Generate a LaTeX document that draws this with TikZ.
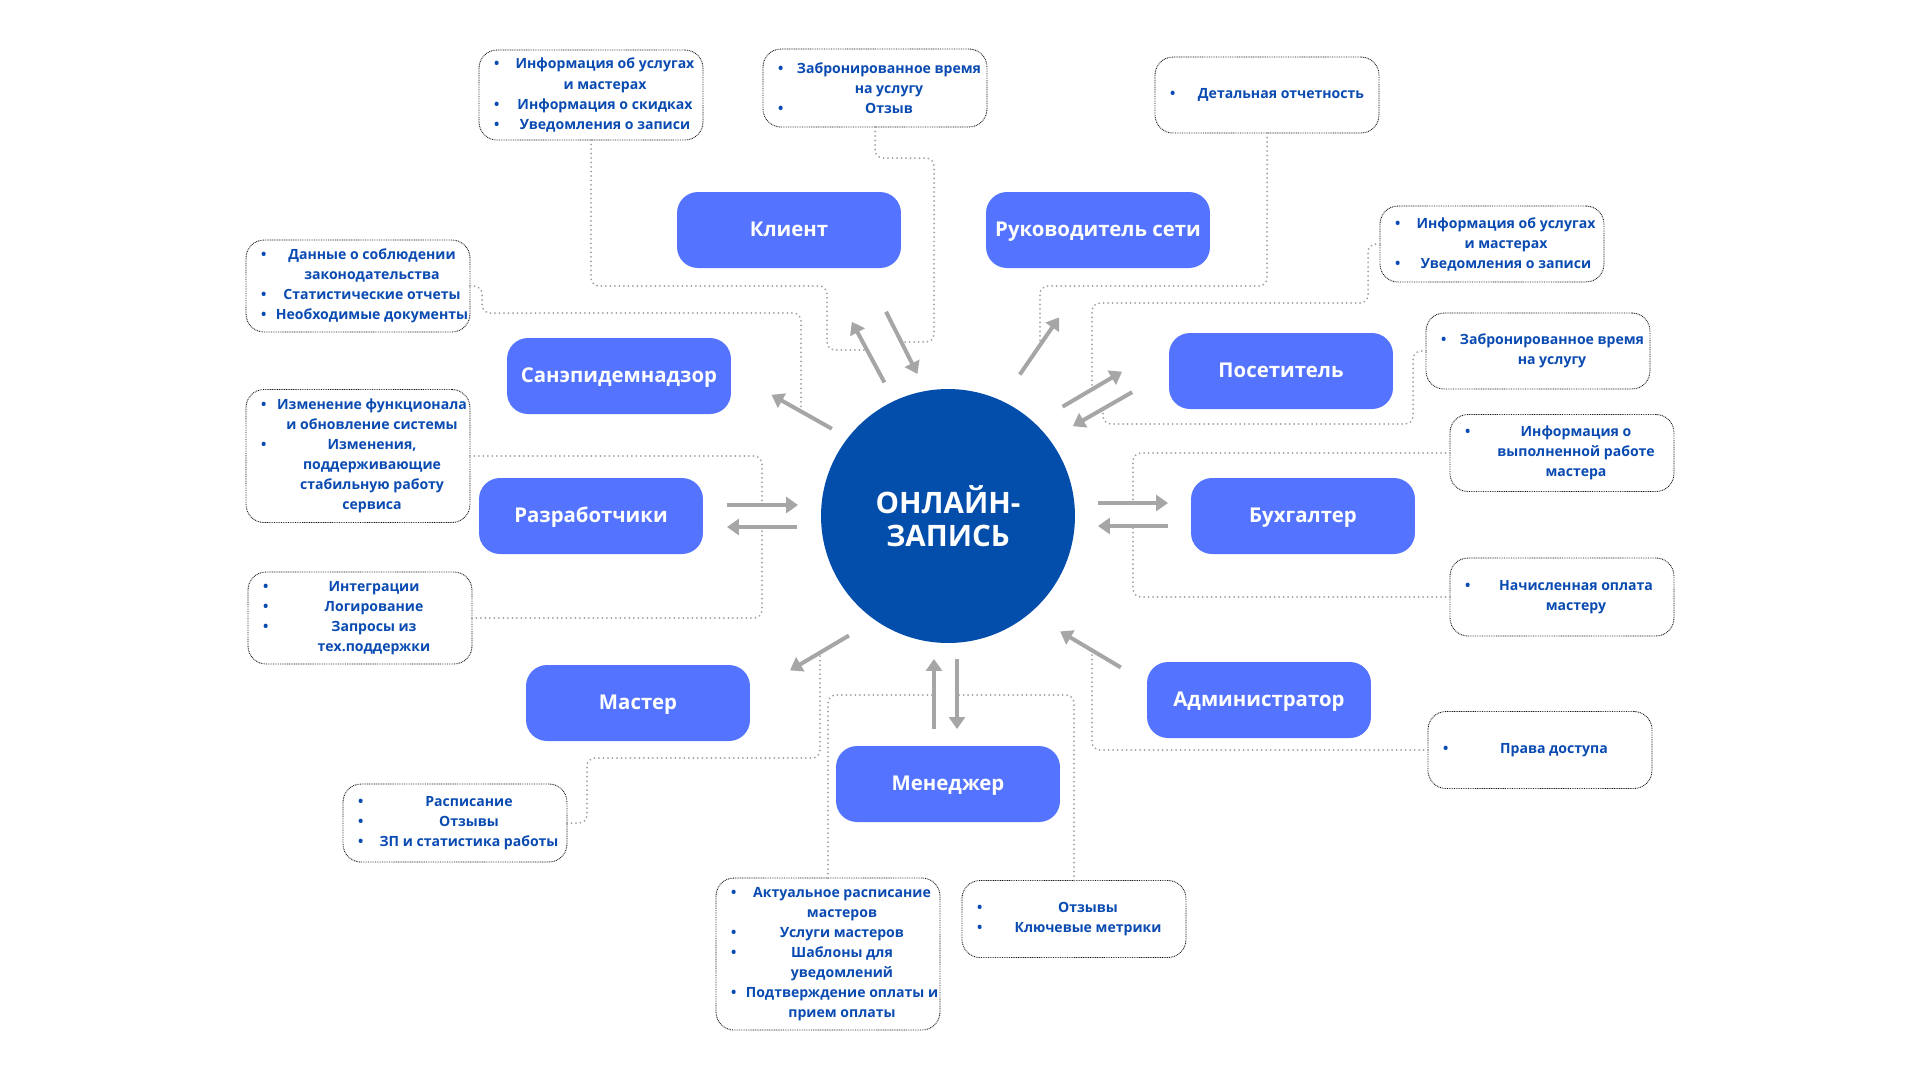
\documentclass[tikz,border=0pt]{standalone}
\usepackage{fontspec}
\setmainfont{Open Sans}
\usepackage{tikz}
\usetikzlibrary{positioning}
\usetikzlibrary{calc}
\usetikzlibrary{arrows.meta}
\usepackage{xcolor}

\definecolor{hubblue}{HTML}{034DAB}
\definecolor{roleblue}{HTML}{5474FF}
\definecolor{txtblue}{HTML}{0A4BB2}
\definecolor{arrgray}{HTML}{A6A6A6}
\definecolor{linkgray}{HTML}{A0A0A0}

% one bullet line and one continuation line of an info box
\newcommand{\bitem}[1]{\makebox[0.56cm][l]{\hspace{0.3cm}\textbullet}\makebox[3.92cm]{#1}}
\newcommand{\bcont}[1]{\makebox[0.56cm]{}\makebox[3.92cm]{#1}}

\begin{document}
\begin{tikzpicture}[x=0.02cm, y=-0.02cm,
 hub/.style={circle, fill=hubblue, minimum size=5.08cm, inner sep=0pt, outer sep=0pt, text=white, align=center, font=\fontsize{16.8}{19}\selectfont\bfseries},
 role/.style={fill=roleblue, rounded corners=0.42cm, minimum width=4.48cm, minimum height=1.52cm, inner sep=0pt, outer sep=0pt, text height=0.71em, text depth=0pt, text=white, font=\fontsize{11.6}{14}\selectfont\bfseries},
 info/.style={draw=black!90, line width=0.5pt, dash pattern=on 0.5pt off 0.5pt, rounded corners=0.36cm, fill=white, minimum width=4.48cm, inner sep=0pt, outer sep=0pt, text=txtblue, align=center, font=\fontsize{8}{11.4}\selectfont\bfseries},
 arr/.style={draw=arrgray, line width=0.08cm, -{Triangle[length=0.24cm, width=0.32cm]}},
 link/.style={draw=linkgray, line width=0.04cm, line cap=round, dash pattern=on 0pt off 0.09cm, rounded corners=0.16cm}
]
\fill[white] (0,0) rectangle (1920,1080);
\useasboundingbox (0,0) rectangle (1920,1080);

% centre
\node[hub] (hub) at (948,516) {ОНЛАЙН-\\ЗАПИСЬ};

% roles
{
\node[role] (client) at (789,230) {Клиент};
\node[role] (head) at (1098,230) {Руководитель сети};
\node[role] (san) at (619,376) {Санэпидемнадзор};
\node[role] (visitor) at (1281,371) {Посетитель};
\node[role] (dev) at (591,516) {Разработчики};
\node[role] (acc) at (1303,516) {Бухгалтер};
\node[role] (master) at (638,703) {Мастер};
\node[role] (admin) at (1259,700) {Администратор};
\node[role] (manager) at (948,784) {Менеджер};
}

% info boxes
{
\node[info, minimum height=1.8cm] (inf1) at (591,95)
{\bitem{Информация об услугах}\\\bcont{и мастерах}\\\bitem{Информация о скидках}\\\bitem{Уведомления о записи}};
\node[info, minimum height=1.56cm] (inf2) at (875,88)
{\bitem{Забронированное время}\\\bcont{на услугу}\\\bitem{Отзыв}};
\node[info, minimum height=1.52cm] (inf3) at (1267,95)
{\bitem{Детальная отчетность}};
\node[info, minimum height=1.52cm] (inf4) at (1492,244)
{\bitem{Информация об услугах}\\\bcont{и мастерах}\\\bitem{Уведомления о записи}};
\node[info, minimum height=1.52cm] (inf5) at (1538,351)
{\bitem{Забронированное время}\\\bcont{на услугу}};
\node[info, minimum height=1.54cm] (inf6) at (1562,453)
{\bitem{Информация о}\\\bcont{выполненной работе}\\\bcont{мастера}};
\node[info, minimum height=1.56cm] (inf7) at (1562,597)
{\bitem{Начисленная оплата}\\\bcont{мастеру}};
\node[info, minimum height=1.54cm] (inf8) at (1540,750)
{\bitem{Права доступа}};
\node[info, minimum height=1.54cm] (inf9) at (1074,919)
{\bitem{Отзывы}\\\bitem{Ключевые метрики}};
\node[info, minimum height=3.04cm] (inf10) at (828,954)
{\bitem{Актуальное расписание}\\\bcont{мастеров}\\\bitem{Услуги мастеров}\\\bitem{Шаблоны для}\\\bcont{уведомлений}\\\bitem{Подтверждение оплаты и}\\\bcont{прием оплаты}};
\node[info, minimum height=1.56cm] (inf11) at (455,823)
{\bitem{Расписание}\\\bitem{Отзывы}\\\bitem{ЗП и статистика работы}};
\node[info, minimum height=1.84cm] (inf12) at (360,618)
{\bitem{Интеграции}\\\bitem{Логирование}\\\bitem{Запросы из}\\\bcont{тех.поддержки}};
\node[info, minimum height=2.66cm] (inf13) at (358,456)
{\bitem{Изменение функционала}\\\bcont{и обновление системы}\\\bitem{Изменения,}\\\bcont{поддерживающие}\\\bcont{стабильную работу}\\\bcont{сервиса}};
\node[info, minimum height=1.84cm] (inf14) at (358,286)
{\bitem{Данные о соблюдении}\\\bcont{законодательства}\\\bitem{Статистические отчеты}\\\bitem{Необходимые документы}};
}

% where the dotted links meet the arrows
\coordinate (j1) at (865,350);
\coordinate (j2) at (903,342);
\coordinate (j3) at (1040,344);
\coordinate (j4) at (1092,388);
\coordinate (j5) at (1103,409);
\coordinate (j6) at (1133,503);
\coordinate (j7) at (1133,526);
\coordinate (j8) at (1092,650);
\coordinate (j9) at (958,695);
\coordinate (j10) at (934,695);
\coordinate (j11) at (820,654);
\coordinate (j12) at (762,527);
\coordinate (j13) at (762,505);
\coordinate (j14) at (801,412);

% dotted links
{
\draw[link] (inf1.south) |- (827,286) |- (j1);
\draw[link] (inf2.south) |- (934,158) |- (j2);
\draw[link] (inf3.south) |- (1040,286) -- (j3);
\draw[link] (inf4.west) -| (1368,303) -| (j4);
\draw[link] (inf5.west) -| (1413,424) -| (j5);
\draw[link] (inf6.west) -| (j6);
\draw[link] (inf7.west) -| (j7);
\draw[link] (inf8.west) -| (j8);
\draw[link] (inf9.north) |- (j9);
\draw[link] (inf10.north) |- (j10);
\draw[link] (inf11.east) -| (587,758) -| (j11);
\draw[link] (inf12.east) -| (j12);
\draw[link] (inf13.east) -| (j13);
\draw[link] (inf14.east) -| (482,313) -| (j14);
}

% arrows
{
\draw[arr, shorten <=0.37cm, shorten >=0.93cm] (hub.142.8) -- ($(san.east)+(0,-4)$);
\draw[arr, shorten <=0.42cm, shorten >=1.22cm] (hub.115.8) -- ($(client.south)+(34,0)$);
\draw[arr, shorten <=0.98cm, shorten >=0.38cm] ($(client.south)+(75,0)$) -- (hub.100.2);
\draw[arr, shorten <=0.64cm, shorten >=1.2cm] (hub.65.6) -- ($(head.south)+(-5,0)$);
\draw[arr, shorten <=0.65cm, shorten >=1.09cm] (hub.47.5) -- ($(visitor.west)+(0,-27)$);
\draw[arr, shorten <=0.85cm, shorten >=0.54cm] (visitor.west) -- (hub.37);

\draw[arr, shorten <=0.48cm, shorten >=0.46cm] ($(dev.east)+(0,-11)$) -- ($(hub.west)+(0,-11)$);
\draw[arr, shorten <=0.48cm, shorten >=0.48cm] ($(hub.west)+(0,11)$) -- ($(dev.east)+(0,11)$);
\draw[arr, shorten <=0.46cm, shorten >=0.46cm] ($(hub.east)+(0,-13)$) -- ($(acc.west)+(0,-13)$);
\draw[arr, shorten <=0.46cm, shorten >=0.46cm] ($(acc.west)+(0,10)$) -- ($(hub.east)+(0,10)$);

\draw[arr, shorten <=0.61cm, shorten >=0.93cm] (hub.235.5) -- ($(master.east)+(0,-9)$);
\draw[arr, shorten <=0.34cm, shorten >=0.32cm] ($(manager.north)+(-14,0)$) -- ($(hub.south)+(-14,0)$);
\draw[arr, shorten <=0.32cm, shorten >=0.34cm] ($(hub.south)+(9,0)$) -- ($(manager.north)+(9,0)$);
\draw[arr, shorten <=0.61cm, shorten >=0.71cm] ($(admin.west)+(0,-17)$) -- (hub.310.5);
}

\end{tikzpicture}
\end{document}
